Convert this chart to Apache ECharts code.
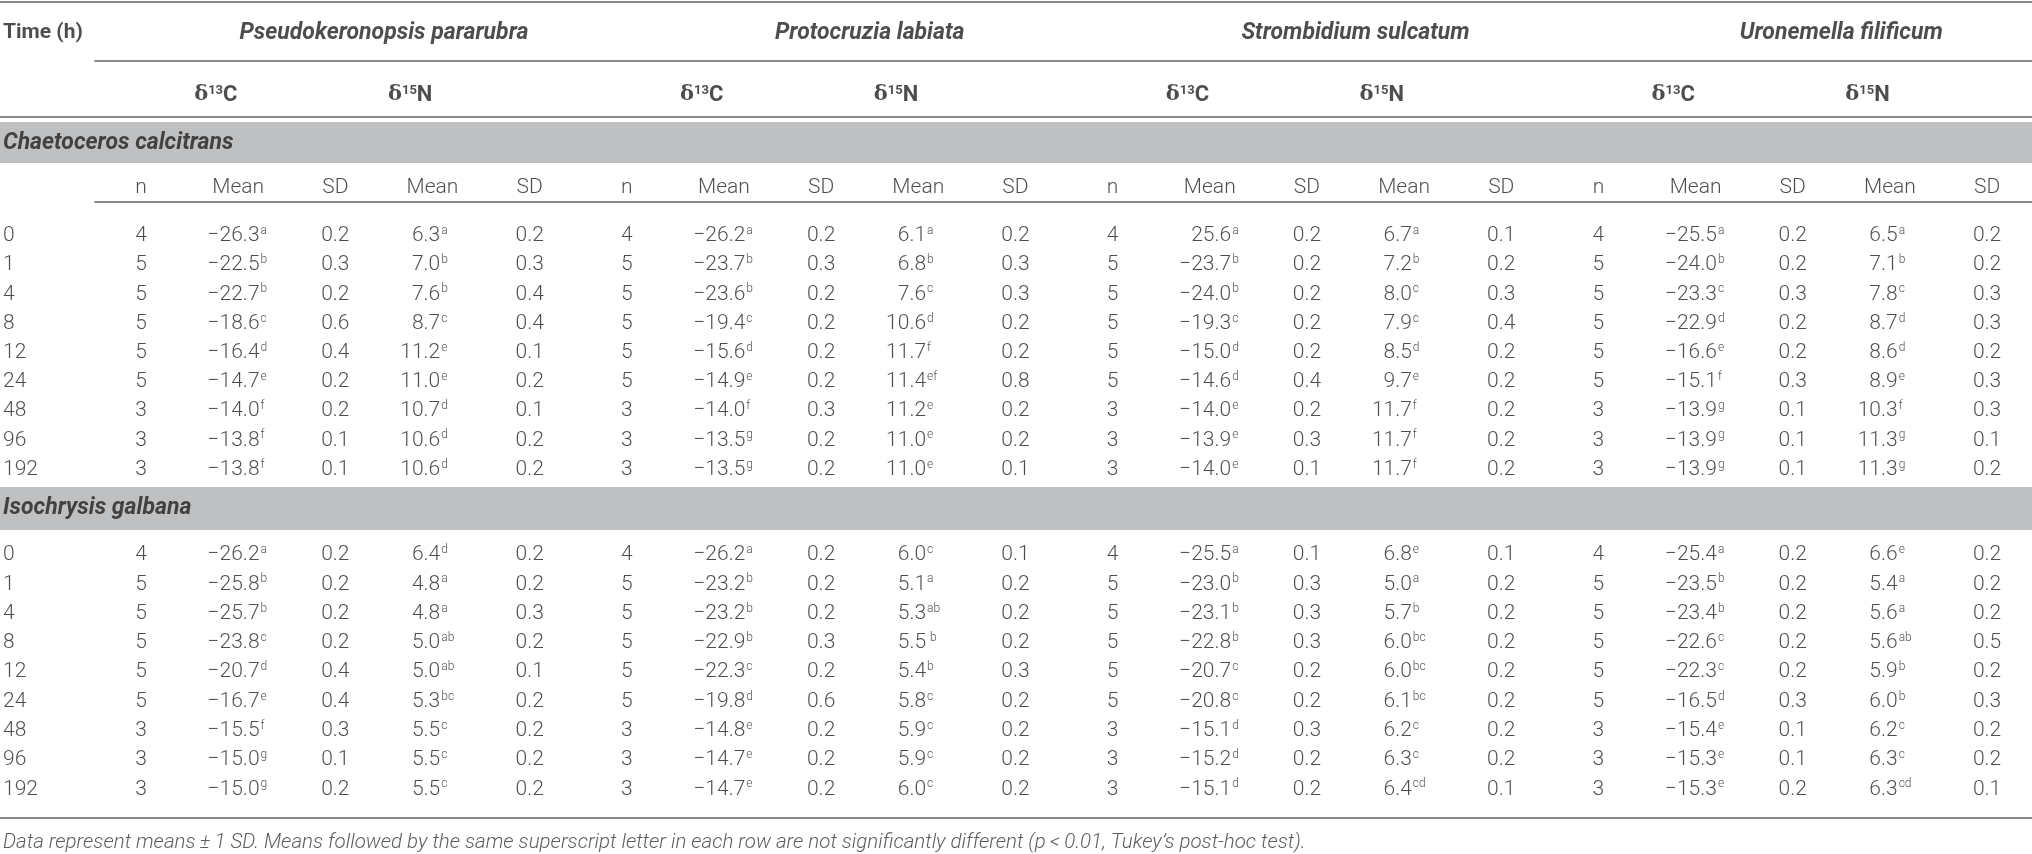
<!DOCTYPE html>
<html><head><meta charset="utf-8">
<script src="https://cdn.jsdelivr.net/npm/echarts@6/dist/echarts.min.js"></script>
<style>html,body{margin:0;padding:0;background:#fff}#c{width:2032px;height:854px}</style>
</head><body><div id="c"></div><script>
// ---------- DATA ----------
const times = ['0','1','4','8','12','24','48','96','192'];
const speciesNames = ['Pseudokeronopsis pararubra','Protocruzia labiata','Strombidium sulcatum','Uronemella filificum'];
const dietNames = ['Chaetoceros calcitrans','Isochrysis galbana'];
const colHeaders = ['n','Mean','SD','Mean','SD'];
const footnote = 'Data represent means\u2009\u00b1\u20091 SD. Means followed by the same superscript letter in each row are not significantly different (p\u2009<\u20090.01, Tukey\u2019s post-hoc test).';

// Chaetoceros calcitrans
const ccPP_n   = [4,5,5,5,5,5,3,3,3];
const ccPP_C   = [-26.3,-22.5,-22.7,-18.6,-16.4,-14.7,-14.0,-13.8,-13.8];
const ccPP_Cl  = ['a','b','b','c','d','e','f','f','f'];
const ccPP_Csd = [0.2,0.3,0.2,0.6,0.4,0.2,0.2,0.1,0.1];
const ccPP_N   = [6.3,7.0,7.6,8.7,11.2,11.0,10.7,10.6,10.6];
const ccPP_Nl  = ['a','b','b','c','e','e','d','d','d'];
const ccPP_Nsd = [0.2,0.3,0.4,0.4,0.1,0.2,0.1,0.2,0.2];

const ccPL_n   = [4,5,5,5,5,5,3,3,3];
const ccPL_C   = [-26.2,-23.7,-23.6,-19.4,-15.6,-14.9,-14.0,-13.5,-13.5];
const ccPL_Cl  = ['a','b','b','c','d','e','f','g','g'];
const ccPL_Csd = [0.2,0.3,0.2,0.2,0.2,0.2,0.3,0.2,0.2];
const ccPL_N   = [6.1,6.8,7.6,10.6,11.7,11.4,11.2,11.0,11.0];
const ccPL_Nl  = ['a','b','c','d','f','ef','e','e','e'];
const ccPL_Nsd = [0.2,0.3,0.3,0.2,0.2,0.8,0.2,0.2,0.1];

const ccSS_n   = [4,5,5,5,5,5,3,3,3];
const ccSS_C   = [25.6,-23.7,-24.0,-19.3,-15.0,-14.6,-14.0,-13.9,-14.0];
const ccSS_Cl  = ['a','b','b','c','d','d','e','e','e'];
const ccSS_Csd = [0.2,0.2,0.2,0.2,0.2,0.4,0.2,0.3,0.1];
const ccSS_N   = [6.7,7.2,8.0,7.9,8.5,9.7,11.7,11.7,11.7];
const ccSS_Nl  = ['a','b','c','c','d','e','f','f','f'];
const ccSS_Nsd = [0.1,0.2,0.3,0.4,0.2,0.2,0.2,0.2,0.2];

const ccUF_n   = [4,5,5,5,5,5,3,3,3];
const ccUF_C   = [-25.5,-24.0,-23.3,-22.9,-16.6,-15.1,-13.9,-13.9,-13.9];
const ccUF_Cl  = ['a','b','c','d','e','f','g','g','g'];
const ccUF_Csd = [0.2,0.2,0.3,0.2,0.2,0.3,0.1,0.1,0.1];
const ccUF_N   = [6.5,7.1,7.8,8.7,8.6,8.9,10.3,11.3,11.3];
const ccUF_Nl  = ['a','b','c','d','d','e','f','g','g'];
const ccUF_Nsd = [0.2,0.2,0.3,0.3,0.2,0.3,0.3,0.1,0.2];

// Isochrysis galbana
const igPP_n   = [4,5,5,5,5,5,3,3,3];
const igPP_C   = [-26.2,-25.8,-25.7,-23.8,-20.7,-16.7,-15.5,-15.0,-15.0];
const igPP_Cl  = ['a','b','b','c','d','e','f','g','g'];
const igPP_Csd = [0.2,0.2,0.2,0.2,0.4,0.4,0.3,0.1,0.2];
const igPP_N   = [6.4,4.8,4.8,5.0,5.0,5.3,5.5,5.5,5.5];
const igPP_Nl  = ['d','a','a','ab','ab','bc','c','c','c'];
const igPP_Nsd = [0.2,0.2,0.3,0.2,0.1,0.2,0.2,0.2,0.2];

const igPL_n   = [4,5,5,5,5,5,3,3,3];
const igPL_C   = [-26.2,-23.2,-23.2,-22.9,-22.3,-19.8,-14.8,-14.7,-14.7];
const igPL_Cl  = ['a','b','b','b','c','d','e','e','e'];
const igPL_Csd = [0.2,0.2,0.2,0.3,0.2,0.6,0.2,0.2,0.2];
const igPL_N   = [6.0,5.1,5.3,5.5,5.4,5.8,5.9,5.9,6.0];
const igPL_Nl  = ['c','a','ab',' b','b','c','c','c','c'];
const igPL_Nsd = [0.1,0.2,0.2,0.2,0.3,0.2,0.2,0.2,0.2];

const igSS_n   = [4,5,5,5,5,5,3,3,3];
const igSS_C   = [-25.5,-23.0,-23.1,-22.8,-20.7,-20.8,-15.1,-15.2,-15.1];
const igSS_Cl  = ['a','b','b','b','c','c','d','d','d'];
const igSS_Csd = [0.1,0.3,0.3,0.3,0.2,0.2,0.3,0.2,0.2];
const igSS_N   = [6.8,5.0,5.7,6.0,6.0,6.1,6.2,6.3,6.4];
const igSS_Nl  = ['e','a','b','bc','bc','bc','c','c','cd'];
const igSS_Nsd = [0.1,0.2,0.2,0.2,0.2,0.2,0.2,0.2,0.1];

const igUF_n   = [4,5,5,5,5,5,3,3,3];
const igUF_C   = [-25.4,-23.5,-23.4,-22.6,-22.3,-16.5,-15.4,-15.3,-15.3];
const igUF_Cl  = ['a','b','b','c','c','d','e','e','e'];
const igUF_Csd = [0.2,0.2,0.2,0.2,0.2,0.3,0.1,0.1,0.2];
const igUF_N   = [6.6,5.4,5.6,5.6,5.9,6.0,6.2,6.3,6.3];
const igUF_Nl  = ['e','a','a','ab','b','b','c','c','cd'];
const igUF_Nsd = [0.2,0.2,0.2,0.5,0.2,0.3,0.2,0.2,0.1];

const blocks = [
  [[ccPP_n,ccPP_C,ccPP_Cl,ccPP_Csd,ccPP_N,ccPP_Nl,ccPP_Nsd],
   [ccPL_n,ccPL_C,ccPL_Cl,ccPL_Csd,ccPL_N,ccPL_Nl,ccPL_Nsd],
   [ccSS_n,ccSS_C,ccSS_Cl,ccSS_Csd,ccSS_N,ccSS_Nl,ccSS_Nsd],
   [ccUF_n,ccUF_C,ccUF_Cl,ccUF_Csd,ccUF_N,ccUF_Nl,ccUF_Nsd]],
  [[igPP_n,igPP_C,igPP_Cl,igPP_Csd,igPP_N,igPP_Nl,igPP_Nsd],
   [igPL_n,igPL_C,igPL_Cl,igPL_Csd,igPL_N,igPL_Nl,igPL_Nsd],
   [igSS_n,igSS_C,igSS_Cl,igSS_Csd,igSS_N,igSS_Nl,igSS_Nsd],
   [igUF_n,igUF_C,igUF_Cl,igUF_Csd,igUF_N,igUF_Nl,igUF_Nsd]]
];

// ---------- LAYOUT ----------
const X_MIN = -0.4512, X_MAX = 20.4627;      // x axis: column index units
const X_TEXT = -0.42, X_RULE = 0.52;
const Y = { top:2, hdr1:33, rule2:61, hdr2:95, rule3:117,
  bands:[[122,163],[487,530]], bandText:[143,508],
  colHdr:188, rule4:202, row0:[236,555], step:[29.2,29.3], bottom:818, foot:843 };
const FONT = 'Roboto, "Liberation Sans", sans-serif';
const INK = '#231f20';
const DATA_SIZE = 21;

function fmt(v){ return v.toFixed(1).replace('-', '\u2212'); }
function colX(g, s){ return 1 + 5*g + s; }

const items = [];
function txt(x, y, text, o){
  o = o || {};
  items.push({ value:[x, y], label:{
    show:true, position:'inside', formatter:text,
    align:o.align||'center', verticalAlign:'middle',
    fontFamily:o.family||FONT, fontSize:o.size||DATA_SIZE,
    fontWeight:o.weight||'normal', fontStyle:o.style||'normal',
    color:o.color||INK, offset:o.offset||[0,0], rich:o.rich
  }});
}

// header row 1
txt(X_TEXT, Y.hdr1, 'Time (h)', {align:'left', weight:'bold', size:21});
speciesNames.forEach((s,g)=> txt(colX(g,2.5), Y.hdr1, s, {weight:'bold', style:'italic', size:23}));
// delta row
const deltaRich = {
  d:{fontFamily:'"DejaVu Serif","Liberation Serif",serif', fontSize:21, fontWeight:'bold', color:INK},
  s:{fontFamily:FONT, fontSize:13, fontWeight:'bold', color:INK, verticalAlign:'top', lineHeight:14},
  b:{fontFamily:FONT, fontSize:22, fontWeight:'bold', color:INK}
};
speciesNames.forEach((s,g)=>{
  txt(colX(g,1)-0.23, Y.hdr2, '{d|\u03b4}{s|13}{b|C}', {rich:deltaRich});
  txt(colX(g,3)-0.23, Y.hdr2, '{d|\u03b4}{s|15}{b|N}', {rich:deltaRich});
});
// diet bands text
dietNames.forEach((d,i)=> txt(X_TEXT, Y.bandText[i], d, {align:'left', weight:'bold', style:'italic', size:23}));
// column headers
speciesNames.forEach((s,g)=> colHeaders.forEach((h,k)=> txt(colX(g,k), Y.colHdr, h, {weight:300})));

// data rows
blocks.forEach((blk, bi)=>{
  times.forEach((t, r)=>{
    const y = Y.row0[bi] + r*Y.step[bi];
    txt(X_TEXT, y, t, {align:'left', weight:300});
    blk.forEach((arr, g)=>{
      const [n,C,Cl,Csd,N,Nl,Nsd] = arr;
      txt(colX(g,0), y, String(n[r]), {weight:300});
      const xc = colX(g,1)+0.22, xn = colX(g,3)+0.08;
      txt(xc, y, fmt(C[r]), {align:'right', weight:300});
      txt(xc, y, Cl[r], {align:'left', weight:300, size:12, offset:[1,-5]});
      txt(colX(g,2), y, fmt(Csd[r]), {weight:300});
      txt(xn, y, fmt(N[r]), {align:'right', weight:300});
      txt(xn, y, Nl[r], {align:'left', weight:300, size:12, offset:[1,-5]});
      txt(colX(g,4), y, fmt(Nsd[r]), {weight:300});
    });
  });
});
// footnote
txt(X_TEXT, Y.foot, footnote, {align:'left', style:'italic', weight:300, size:20.5, color:'#333'});

// ---------- CHART ----------
const rule = '#8a8a8a';
const chart = echarts.init(document.getElementById('c'));
chart.setOption({
  animation:false,
  grid:{left:0,right:0,top:0,bottom:0,containLabel:false},
  xAxis:{type:'value', min:X_MIN, max:X_MAX, show:false},
  yAxis:{type:'value', min:0, max:854, inverse:true, show:false},
  series:[
    { type:'scatter', data:[], z:1, silent:true,
      markArea:{ silent:true, itemStyle:{color:'#bfc0c2'},
        data: Y.bands.map(b=>[{yAxis:b[0]},{yAxis:b[1]}]) },
      markLine:{ silent:true, symbol:['none','none'], label:{show:false},
        lineStyle:{color:rule, width:2, type:'solid'},
        data:[
          [{coord:[X_MIN,Y.top]},{coord:[X_MAX,Y.top]}],
          [{coord:[X_RULE,Y.rule2]},{coord:[X_MAX,Y.rule2]}],
          [{coord:[X_MIN,Y.rule3]},{coord:[X_MAX,Y.rule3]}],
          [{coord:[X_RULE,Y.rule4]},{coord:[X_MAX,Y.rule4]}],
          [{coord:[X_MIN,Y.bottom]},{coord:[X_MAX,Y.bottom]}]
        ] } },
    { type:'scatter', data:items, symbolSize:0, z:5, silent:true,
      itemStyle:{color:'transparent'} }
  ]
});
</script></body></html>
